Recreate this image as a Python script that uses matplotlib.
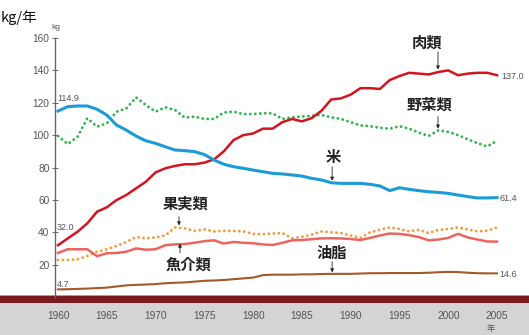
import matplotlib
matplotlib.use("Agg")
import matplotlib.pyplot as plt
from matplotlib.patches import Rectangle

years = list(range(1960, 2006))

rice = [114.9, 117.6, 118.0, 118.0, 116.0, 112.4, 106.2, 103.1, 99.4, 96.5,
        94.9, 92.8, 90.8, 90.4, 89.8, 88.0, 84.6, 82.0, 80.5, 79.5,
        78.4, 77.4, 76.4, 76.0, 75.4, 74.7, 73.3, 72.3, 70.6, 70.2,
        70.2, 70.2, 69.6, 68.6, 65.7, 67.5, 66.5, 65.7, 65.0, 64.6,
        64.0, 63.0, 62.0, 61.2, 61.2, 61.4]

meat = [32.0, 36.2, 40.3, 45.5, 52.7, 55.4, 59.9, 63.0, 67.1, 71.2,
        77.0, 79.5, 81.0, 82.0, 82.0, 83.0, 85.0, 90.0, 97.0, 100.0,
        101.0, 104.0, 104.0, 108.0, 110.0, 108.5, 110.5, 115.0, 122.0, 122.7,
        125.0, 129.0, 129.0, 128.5, 134.0, 136.5, 138.5, 138.0, 137.5, 139.0,
        140.0, 137.0, 138.0, 138.5, 138.5, 137.0]

vegetables = [99.4, 94.5, 99.0, 110.4, 105.2, 107.3, 114.5, 116.5, 123.3, 118.6,
              114.5, 117.2, 115.5, 110.8, 111.4, 110.0, 110.0, 114.0, 114.5, 113.0,
              113.0, 113.5, 113.5, 110.0, 111.0, 111.5, 112.0, 112.5, 111.0, 110.0,
              108.0, 106.0, 105.5, 104.5, 104.0, 105.5, 104.0, 101.5, 99.5, 103.0,
              102.0, 100.0, 97.5, 95.0, 93.0, 96.5]

fruit = [22.9, 22.9, 23.3, 25.3, 28.0, 29.5, 31.5, 34.0, 37.0, 36.2,
         36.8, 38.0, 43.0, 42.4, 40.8, 41.8, 40.5, 40.8, 40.8, 40.5,
         39.0, 38.8, 39.2, 39.5, 36.3, 37.2, 38.5, 40.5, 40.0, 39.5,
         38.0, 36.5, 40.0, 41.5, 43.0, 42.0, 40.5, 41.5, 39.5, 41.5,
         42.0, 43.0, 41.8, 40.5, 41.0, 43.0]

fish = [27.2, 29.5, 29.5, 29.5, 25.2, 27.0, 27.2, 28.0, 30.0, 29.2,
        29.5, 32.0, 32.5, 32.7, 33.5, 34.5, 35.0, 33.0, 34.0, 33.5,
        33.2, 32.5, 32.1, 33.5, 35.0, 35.2, 35.7, 36.2, 36.3, 36.2,
        35.8, 35.2, 36.5, 38.0, 39.2, 39.0, 38.2, 37.0, 35.0, 35.5,
        36.5, 39.0, 36.8, 35.5, 34.3, 34.2]

oil = [4.7, 4.8, 5.0, 5.2, 5.5, 5.8, 6.5, 7.2, 7.5, 7.7,
       8.0, 8.5, 8.8, 9.0, 9.5, 10.0, 10.2, 10.5, 11.0, 11.5,
       12.0, 13.5, 13.8, 13.8, 13.8, 14.0, 14.0, 14.2, 14.3, 14.3,
       14.3, 14.5, 14.7, 14.7, 14.8, 14.8, 14.8, 14.8, 15.0, 15.3,
       15.5, 15.4, 15.0, 14.7, 14.6, 14.6]

xtick_years = [1960, 1965, 1970, 1975, 1980, 1985, 1990, 1995, 2000, 2005]
yticks = [20, 40, 60, 80, 100, 120, 140, 160]

CJK = ['Noto Sans CJK JP', 'DejaVu Sans']
NUM = 'Liberation Sans'

W, H = 529, 335
fig = plt.figure(figsize=(W / 100, H / 100), dpi=100)
fig.patch.set_facecolor('white')

# bottom band + grey strip behind the year labels
fig.patches.append(Rectangle((0, 0), 1, (H - 303) / H, transform=fig.transFigure,
                             facecolor='#d4d4d4', edgecolor='none', zorder=-2))
fig.patches.append(Rectangle((0, (H - 303) / H), 1, 8 / H, transform=fig.transFigure,
                             facecolor='#7a1a1e', edgecolor='none', zorder=-1))
fig.patches.append(Rectangle((0, (H - 296) / H), 1, 1.2 / H, transform=fig.transFigure,
                             facecolor='#c89090', edgecolor='none', zorder=-1))

ax = fig.add_axes([55 / W, (H - 297) / H, (W - 55) / W, 259 / H])
ax.set_facecolor('none')
ax.set_xlim(1959.69, 2008.28)
ax.set_ylim(0, 160)

dot = (0, (0.01, 1.7))
ax.plot(years, vegetables, color='#2fb34c', lw=2.1, linestyle=dot, dash_capstyle='round')
ax.plot(years, fruit, color='#ee9c3c', lw=2.1, linestyle=dot, dash_capstyle='round')
ax.plot(years, oil, color='#a4592a', lw=1.5)
ax.plot(years, fish, color='#ec645e', lw=1.8)
ax.plot(years, meat, color='#d4141e', lw=1.8)
ax.plot(years, rice, color='#1c9bd6', lw=2.2)

for s in ['top', 'right', 'bottom']:
    ax.spines[s].set_visible(False)
ax.spines['left'].set_color('#666666')
ax.spines['left'].set_linewidth(1.0)

ax.set_yticks(yticks)
ax.set_yticklabels([str(v) for v in yticks], fontname=NUM, fontsize=7.3, color='#555555')
ax.tick_params(axis='y', direction='inout', length=4, width=0.7, color='#666666', pad=2)
ax.set_xticks(xtick_years)
ax.set_xticklabels([str(v) for v in xtick_years], fontname=NUM, fontsize=7.3, color='#555555')
ax.tick_params(axis='x', length=0, pad=10)

# category labels with arrows
lab = dict(family=CJK, fontsize=11, fontweight='bold', color='#222222', ha='center', va='center')
arr = dict(arrowstyle='-|>', lw=0.6, color='#222222', mutation_scale=5, shrinkA=0, shrinkB=0)

ax.text(1997.8, 157, '肉類', **lab)
ax.annotate('', xy=(1998.95, 140.5), xytext=(1998.95, 151.5), arrowprops=arr)
ax.text(1998.1, 118.6, '野菜類', **lab)
ax.annotate('', xy=(1998.95, 104), xytext=(1998.95, 111.5), arrowprops=arr)
ax.text(1988.2, 86.5, '米', **lab)
ax.annotate('', xy=(1988.1, 71.8), xytext=(1988.1, 80.5), arrowprops=arr)
ax.text(1973.1, 58, '果実類', **lab)
ax.annotate('', xy=(1972.4, 44.2), xytext=(1972.4, 49.6), arrowprops=arr)
ax.text(1973.4, 19.8, '魚介類', **lab)
ax.annotate('', xy=(1972.5, 33.0), xytext=(1972.5, 27.2), arrowprops=arr)
ax.text(1988.1, 27.2, '油脂', **lab)
ax.annotate('', xy=(1988.1, 15.2), xytext=(1988.1, 21.8), arrowprops=arr)

# start / end values
val = dict(fontname=NUM, fontsize=6.5, color='#555555', va='center', clip_on=False)
ax.text(1959.9, 122.6, f'{rice[0]:.1f}', ha='left', **val)
ax.text(1959.9, 43.2, f'{meat[0]:.1f}', ha='left', **val)
ax.text(1959.9, 8.0, f'{oil[0]:.1f}', ha='left', **val)
ax.text(2005.45, 136.5, f'{meat[-1]:.1f}', ha='left', **val)
ax.text(2005.25, 61.0, f'{rice[-1]:.1f}', ha='left', **val)
ax.text(2005.25, 14.2, f'{oil[-1]:.1f}', ha='left', **val)

ax.text(1959.75, 166.5, 'kg', fontname=NUM, fontsize=6, color='#555555',
        ha='center', va='center', clip_on=False)

fig.text(1 / W, 1 - 18 / H, 'kg/年', family=CJK, fontsize=10.5, color='#111111',
         ha='left', va='center')
fig.text(491 / W, 1 - 328 / H, '年', family=CJK, fontsize=6, color='#555555',
         ha='center', va='center')

fig.savefig('out.png', dpi=100)
